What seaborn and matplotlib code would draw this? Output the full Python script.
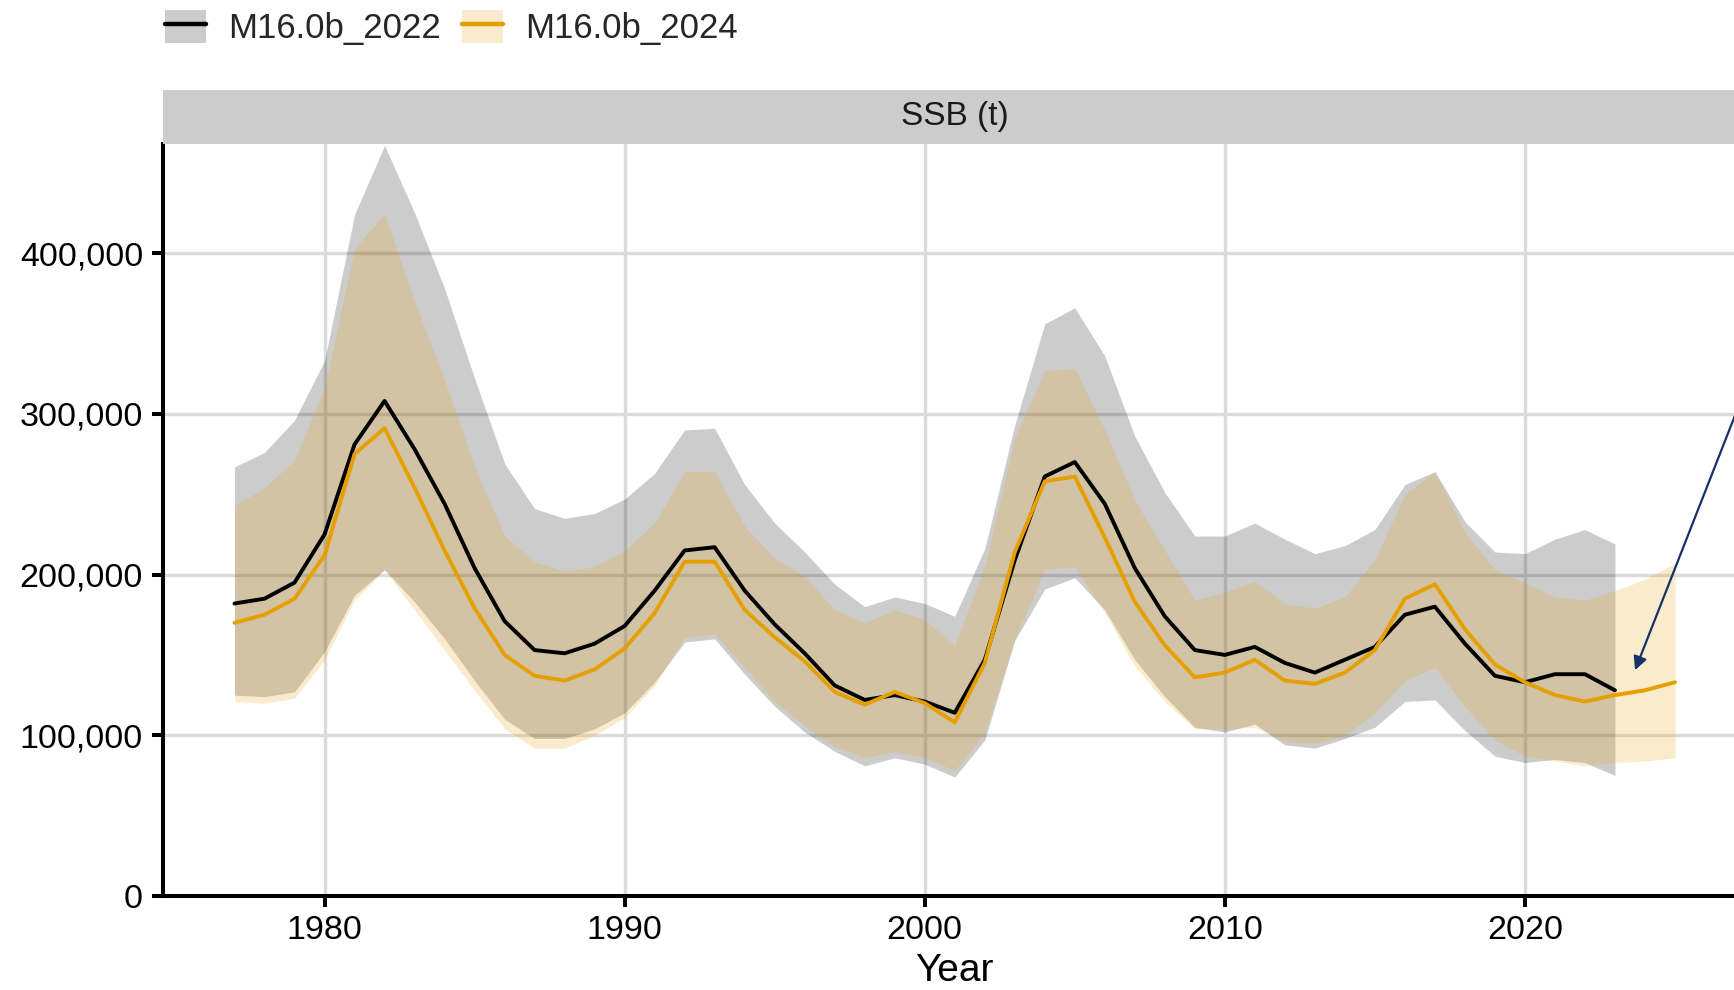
import matplotlib
matplotlib.use("Agg")
import matplotlib.pyplot as plt
from matplotlib.patches import Patch, Rectangle
from matplotlib.lines import Line2D
from matplotlib.ticker import FuncFormatter
import pandas as pd
import seaborn as sns

# ---- SSB estimates (t) with confidence bounds, two model runs ----
years_2022 = list(range(1977, 2024))
ssb_2022 = [182, 185, 195, 225, 281, 308, 278, 244, 204, 171,
            153, 151, 157, 168, 190, 215, 217, 190, 169, 151,
            131, 122, 125, 121, 114, 147, 209, 261, 270, 244,
            204, 174, 153, 150, 155, 145, 139, 147, 155, 175,
            180, 157, 137, 133, 138, 138, 128]
lo_2022 = [125, 124, 127, 152, 187, 203, 183, 160, 134, 110,
           98, 98, 104, 114, 133, 158, 160, 138, 118, 102,
           90, 81, 86, 82, 74, 97, 159, 191, 198, 178,
           147, 124, 105, 102, 107, 94, 92, 98, 105, 121,
           122, 103, 87, 83, 85, 83, 75]
hi_2022 = [267, 276, 296, 333, 424, 467, 425, 378, 322, 269,
           241, 235, 238, 247, 263, 290, 291, 256, 232, 214,
           194, 180, 186, 182, 174, 216, 293, 356, 366, 336,
           286, 251, 224, 224, 232, 222, 213, 218, 228, 256,
           264, 233, 214, 213, 222, 228, 219]

years_2024 = list(range(1977, 2026))
ssb_2024 = [170, 175, 185, 212, 275, 291, 254, 215, 179, 150,
            137, 134, 141, 154, 176, 208, 208, 178, 161, 146,
            127, 119, 127, 120, 108, 145, 214, 258, 261, 223,
            183, 156, 136, 139, 147, 134, 132, 139, 153, 185,
            194, 166, 144, 133, 125, 121, 125, 128, 133]
lo_2024 = [121, 120, 123, 147, 184, 203, 178, 153, 128, 104,
           92, 92, 100, 111, 131, 161, 163, 142, 121, 106,
           93, 86, 90, 86, 78, 101, 160, 203, 205, 176,
           143, 121, 104, 104, 105, 96, 95, 100, 114, 134,
           142, 118, 97, 87, 84, 81, 83, 84, 86]
hi_2024 = [243, 254, 271, 316, 403, 424, 370, 321, 267, 224,
           208, 202, 205, 215, 232, 264, 264, 230, 210, 199,
           178, 170, 178, 172, 156, 205, 285, 327, 328, 290,
           246, 215, 184, 189, 196, 182, 179, 186, 209, 250,
           264, 226, 203, 195, 186, 184, 190, 197, 207]

models = ["M16.0b_2022", "M16.0b_2024"]
line_colors = {"M16.0b_2022": "#000000", "M16.0b_2024": "#E69F00"}
fill_colors = {"M16.0b_2022": (0.0, 0.0, 0.0, 0.2),
               "M16.0b_2024": (0.902, 0.624, 0.0, 0.2)}

frames = []
for name, yrs, est, lo, hi in [
    ("M16.0b_2022", years_2022, ssb_2022, lo_2022, hi_2022),
    ("M16.0b_2024", years_2024, ssb_2024, lo_2024, hi_2024),
]:
    frames.append(pd.DataFrame({
        "Year": yrs,
        "SSB": [v * 1000 for v in est],
        "Lower": [v * 1000 for v in lo],
        "Upper": [v * 1000 for v in hi],
        "Model": name,
    }))
df = pd.concat(frames, ignore_index=True)

sns.set_theme(style="whitegrid")
plt.rcParams["font.family"] = ["Liberation Sans", "DejaVu Sans"]

W, H = 1734, 990
fig = plt.figure(figsize=(W / 100, H / 100), dpi=100)
ax = fig.add_axes([162.5 / W, 1 - 896 / H, (1747 - 162.5) / W, (896 - 143.8) / H])

# confidence ribbons
for m in models:
    sub = df[df["Model"] == m]
    ax.fill_between(sub["Year"], sub["Lower"], sub["Upper"],
                    color=fill_colors[m], linewidth=0, zorder=2)

# point estimates
sns.lineplot(data=df, x="Year", y="SSB", hue="Model", hue_order=models,
             palette=line_colors, linewidth=2.8, legend=False, ax=ax,
             zorder=3)

ax.set_xlim(1974.6, 2027.4)
ax.set_ylim(0, 468000)
ax.set_xticks([1980, 1990, 2000, 2010, 2020])
ax.set_yticks([0, 100000, 200000, 300000, 400000])
ax.yaxis.set_major_formatter(FuncFormatter(lambda v, p: f"{int(v):,}"))

ax.set_axisbelow(True)
ax.grid(True, color="#DBDBDB", linewidth=2.4)
ax.set_facecolor("white")
for side in ["top", "right"]:
    ax.spines[side].set_visible(False)
for side in ["left", "bottom"]:
    ax.spines[side].set_visible(True)
    ax.spines[side].set_color("black")
    ax.spines[side].set_linewidth(2.9)

ax.tick_params(axis="both", which="major", length=8, width=2.9,
               color="black", labelsize=24.5, labelcolor="black", pad=6,
               left=True, bottom=True)
ax.set_xlabel("Year", fontsize=28, color="black", labelpad=4.5)
ax.set_ylabel("")

# facet strip
strip_h = 54.2 / (896 - 143.8)
ax.add_patch(Rectangle((0, 1), 1, strip_h, transform=ax.transAxes,
                       facecolor="#CCCCCC", edgecolor="none", clip_on=False,
                       zorder=5))
ax.text(0.5, 1 + strip_h / 2, "SSB (t)", transform=ax.transAxes,
        ha="center", va="center", fontsize=24, color="#1A1A1A", zorder=6)

# arrow pointing at the projection years
ax.annotate("", xy=(2023.67, 140500), xytext=(2027.4, 318000),
            arrowprops=dict(arrowstyle="-|>", color="#16306B", lw=1.6,
                            mutation_scale=20, shrinkA=0, shrinkB=0),
            annotation_clip=False, zorder=7)

# legend
handles = [(Patch(facecolor=fill_colors[m], edgecolor="none", linewidth=0),
            Line2D([], [], color=line_colors[m], linewidth=3.2))
           for m in models]
fig.legend(handles, models, loc="center left",
           bbox_to_anchor=(165 / W, 1 - 27.5 / H), ncol=2, frameon=False,
           fontsize=25, handlelength=1.18, handleheight=1.12,
           handletextpad=0.63, columnspacing=0.63, borderpad=0,
           borderaxespad=0)

fig.savefig("out.png", dpi=100)
